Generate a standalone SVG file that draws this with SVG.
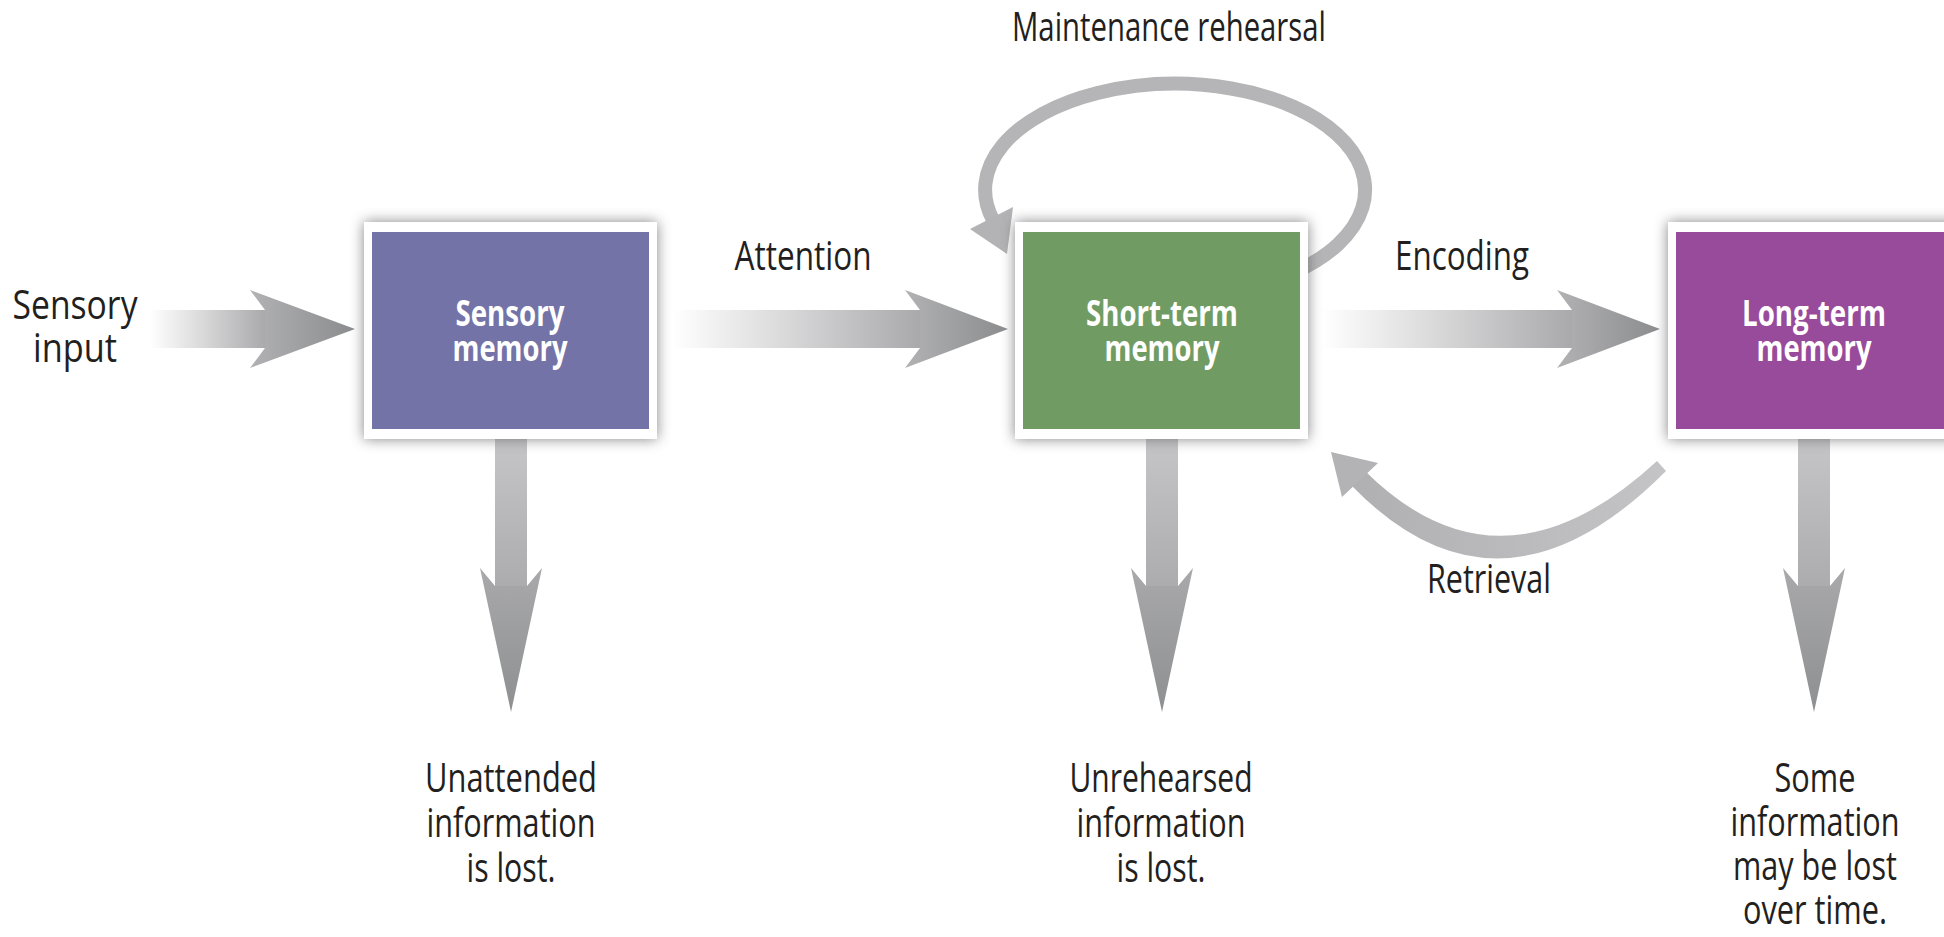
<svg xmlns="http://www.w3.org/2000/svg" width="1944" height="937" viewBox="0 0 1944 937">
<defs>
<style>
.lbl{font-family:"Open Sans","Liberation Sans",sans-serif;font-size:40px;fill:#231f20;text-anchor:middle}
.btx{font-family:"Open Sans","Liberation Sans",sans-serif;font-size:36px;font-weight:bold;fill:#ffffff;text-anchor:middle}
.frame{fill:#ffffff}
.shadow{fill:#5a5a5c;opacity:0.75;filter:url(#blur)}
.loop{fill:none;stroke:#b5b5b7;stroke-width:14}
.tip{fill:#b3b3b5}
</style>
<filter id="blur" x="-20%" y="-30%" width="140%" height="160%">
<feGaussianBlur stdDeviation="7"/>
</filter>
<linearGradient id="hshaft" x1="0" y1="0" x2="1" y2="0">
<stop offset="0" stop-color="#ffffff"/>
<stop offset="0.35" stop-color="#e2e2e3"/>
<stop offset="1" stop-color="#a9a9ab"/>
</linearGradient>
<linearGradient id="hhead" x1="0" y1="0" x2="1" y2="0">
<stop offset="0" stop-color="#b2b2b4"/>
<stop offset="1" stop-color="#8b8c8e"/>
</linearGradient>
<linearGradient id="vshaft" x1="0" y1="0" x2="0" y2="1">
<stop offset="0" stop-color="#c6c6c8"/>
<stop offset="1" stop-color="#acacae"/>
</linearGradient>
<linearGradient id="vhead" x1="0" y1="0" x2="0" y2="1">
<stop offset="0" stop-color="#a9a9ab"/>
<stop offset="1" stop-color="#8e8f91"/>
</linearGradient>
<linearGradient id="retr" x1="1" y1="0" x2="0" y2="0">
<stop offset="0" stop-color="#c4c4c6"/>
<stop offset="1" stop-color="#b0b0b2"/>
</linearGradient>
</defs>
<rect x="0" y="0" width="1944" height="937" fill="#ffffff"/>

<g id="connectors">
<g id="arrow-input">
<rect x="150" y="310" width="116" height="38" fill="url(#hshaft)"/>
<polygon points="250,290 355,329 250,368 265,348 265,310" fill="url(#hhead)"/>
</g>
<g id="arrow-attention">
<rect x="672" y="310" width="249" height="38" fill="url(#hshaft)"/>
<polygon points="905,290 1008,329 905,368 920,348 920,310" fill="url(#hhead)"/>
</g>
<g id="arrow-encoding">
<rect x="1322" y="310" width="251" height="38" fill="url(#hshaft)"/>
<polygon points="1557,290 1660,329 1557,368 1572,348 1572,310" fill="url(#hhead)"/>
</g>
<g id="arrow-down-1">
<rect x="495" y="436" width="32" height="151" fill="url(#vshaft)"/>
<polygon points="495,586 480,568 511,712 542,568 527,586" fill="url(#vhead)"/>
</g>
<g id="arrow-down-2">
<rect x="1146" y="436" width="32" height="151" fill="url(#vshaft)"/>
<polygon points="1146,586 1131,568 1162,712 1193,568 1178,586" fill="url(#vhead)"/>
</g>
<g id="arrow-down-3">
<rect x="1798" y="436" width="32" height="151" fill="url(#vshaft)"/>
<polygon points="1798,586 1783,568 1814,712 1845,568 1830,586" fill="url(#vhead)"/>
</g>
<g id="arrow-rehearsal">
<path class="loop" d="M 1295 272 A 190 106 0 1 0 993 220"/>
<polygon class="tip" points="1013,207 1007,254 970,229"/>
</g>
<g id="arrow-retrieval">
<path d="M 1666 471 Q 1500 638 1352 486 L 1364 470 Q 1500 606 1657 461 Z" fill="url(#retr)"/>
<polygon class="tip" points="1378,463 1331,452 1342,497"/>
</g>
</g>

<g id="node-sensory">
<rect class="shadow" x="364" y="222" width="293" height="217"/>
<rect class="frame" x="364" y="222" width="293" height="217"/>
<rect x="372" y="232" width="277" height="197" fill="#7373a8"/>
<text class="btx" x="510" y="326" textLength="109" lengthAdjust="spacingAndGlyphs">Sensory</text>
<text class="btx" x="510" y="361" textLength="115" lengthAdjust="spacingAndGlyphs">memory</text>
</g>

<g id="node-short-term">
<rect class="shadow" x="1015" y="222" width="293" height="217"/>
<rect class="frame" x="1015" y="222" width="293" height="217"/>
<rect x="1023" y="232" width="277" height="197" fill="#709c63"/>
<text class="btx" x="1162" y="326" textLength="152" lengthAdjust="spacingAndGlyphs">Short-term</text>
<text class="btx" x="1162" y="361" textLength="115" lengthAdjust="spacingAndGlyphs">memory</text>
</g>

<g id="node-long-term">
<rect class="shadow" x="1668" y="222" width="293" height="217"/>
<rect class="frame" x="1668" y="222" width="293" height="217"/>
<rect x="1676" y="232" width="277" height="197" fill="#984a9b"/>
<text class="btx" x="1814" y="326" textLength="144" lengthAdjust="spacingAndGlyphs">Long-term</text>
<text class="btx" x="1814" y="361" textLength="115" lengthAdjust="spacingAndGlyphs">memory</text>
</g>

<g id="labels">
<text class="lbl" x="75" y="319" textLength="125" lengthAdjust="spacingAndGlyphs">Sensory</text>
<text class="lbl" x="75" y="362" textLength="84" lengthAdjust="spacingAndGlyphs">input</text>
<text class="lbl" x="803" y="270" textLength="137" lengthAdjust="spacingAndGlyphs">Attention</text>
<text class="lbl" x="1462" y="270" textLength="134" lengthAdjust="spacingAndGlyphs">Encoding</text>
<text class="lbl" x="1169" y="41" textLength="314" lengthAdjust="spacingAndGlyphs">Maintenance rehearsal</text>
<text class="lbl" x="1489" y="593" textLength="124" lengthAdjust="spacingAndGlyphs">Retrieval</text>
<text class="lbl" x="511" y="792" textLength="172" lengthAdjust="spacingAndGlyphs">Unattended</text>
<text class="lbl" x="511" y="837" textLength="169" lengthAdjust="spacingAndGlyphs">information</text>
<text class="lbl" x="511" y="882" textLength="89" lengthAdjust="spacingAndGlyphs">is lost.</text>
<text class="lbl" x="1161" y="792" textLength="183" lengthAdjust="spacingAndGlyphs">Unrehearsed</text>
<text class="lbl" x="1161" y="837" textLength="169" lengthAdjust="spacingAndGlyphs">information</text>
<text class="lbl" x="1161" y="882" textLength="89" lengthAdjust="spacingAndGlyphs">is lost.</text>
<text class="lbl" x="1815" y="792" textLength="81" lengthAdjust="spacingAndGlyphs">Some</text>
<text class="lbl" x="1815" y="836" textLength="169" lengthAdjust="spacingAndGlyphs">information</text>
<text class="lbl" x="1815" y="880" textLength="164" lengthAdjust="spacingAndGlyphs">may be lost</text>
<text class="lbl" x="1815" y="924" textLength="144" lengthAdjust="spacingAndGlyphs">over time.</text>
</g>
</svg>
